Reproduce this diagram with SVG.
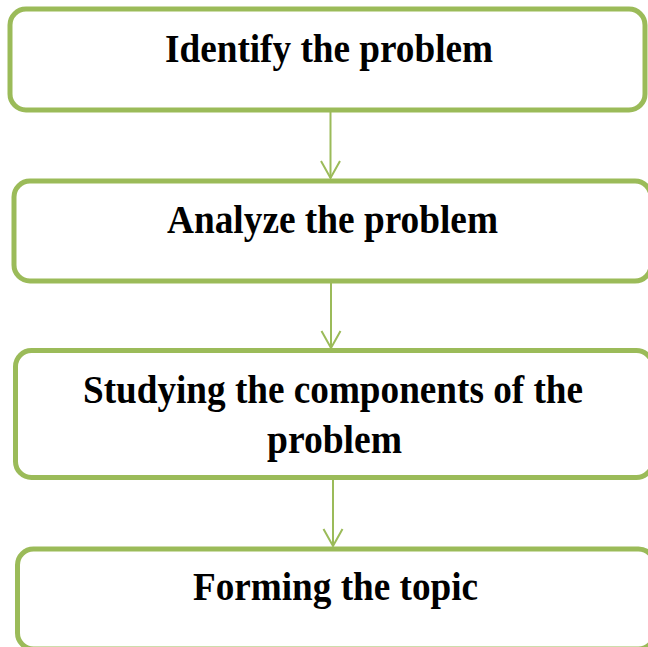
<svg xmlns="http://www.w3.org/2000/svg" width="648" height="647" viewBox="0 0 648 647">
  <style>
    .box { fill: #ffffff; stroke: #9BBB59; stroke-width: 5; }
    .lbl { font-family: "Liberation Serif", "Times New Roman", serif; font-weight: bold; font-size: 40px; fill: #000000; text-anchor: middle; }
    .conn { stroke: #9BBB59; stroke-width: 2; fill: none; marker-end: url(#arrow); }
  </style>
  <defs>
    <marker id="arrow" markerUnits="userSpaceOnUse" orient="auto" refX="0" refY="0" markerWidth="40" markerHeight="40" viewBox="-20 -20 40 40" overflow="visible">
      <path d="M -17 -9.5 L 0 0 L -17 9.5" fill="none" stroke="#9BBB59" stroke-width="2"/>
    </marker>
  </defs>
  <rect x="0" y="0" width="648" height="647" fill="#ffffff"/>
  <g id="connectors">
    <line class="conn" x1="330.5" y1="112" x2="330.5" y2="178"/>
    <line class="conn" x1="331" y1="283" x2="331" y2="348"/>
    <line class="conn" x1="333" y1="480" x2="333" y2="546"/>
  </g>
  <g id="node1">
    <rect class="box" x="10" y="9" width="635" height="101" rx="16" ry="16"/>
    <text class="lbl" x="329" y="62" textLength="328" lengthAdjust="spacingAndGlyphs">Identify the problem</text>
  </g>
  <g id="node2">
    <rect class="box" x="14" y="181" width="637" height="100" rx="16" ry="16"/>
    <text class="lbl" x="332.5" y="233" textLength="331" lengthAdjust="spacingAndGlyphs">Analyze the problem</text>
  </g>
  <g id="node3">
    <rect class="box" x="15.5" y="350.5" width="637" height="127" rx="16" ry="16"/>
    <text class="lbl" x="333" y="403" textLength="500" lengthAdjust="spacingAndGlyphs">Studying the components of the</text>
    <text class="lbl" x="334.5" y="453" textLength="135" lengthAdjust="spacingAndGlyphs">problem</text>
  </g>
  <g id="node4">
    <rect class="box" x="17.5" y="549" width="637" height="100" rx="16" ry="16"/>
    <text class="lbl" x="335.5" y="600" textLength="285" lengthAdjust="spacingAndGlyphs">Forming the topic</text>
  </g>
</svg>
